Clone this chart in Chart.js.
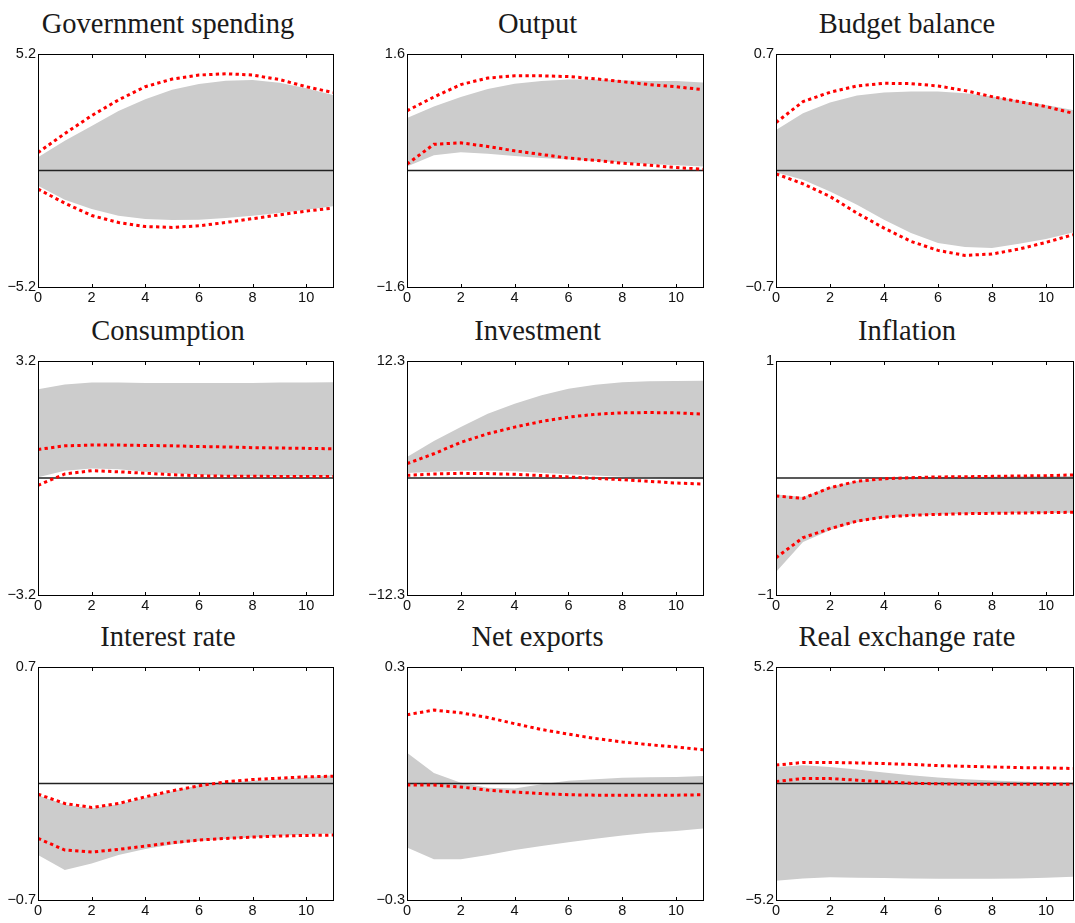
<!DOCTYPE html>
<html>
<head>
<meta charset="utf-8">
<script src="https://cdn.jsdelivr.net/npm/chart.js@4.4.0/dist/chart.umd.min.js"></script>
<style>
  body { margin: 0; background: #fff; width: 1075px; height: 923px; position: relative; overflow: hidden; }
  canvas { position: absolute; }
  .title {
    position: absolute;
    font-family: "Liberation Serif", "Times New Roman", serif;
    font-size: 28.5px;
    line-height: 28.5px;
    color: #1a1a1a;
    white-space: nowrap;
    transform: translateX(-50%);
  }
</style>
</head>
<body>
<script>
// horizons and tick positions
var horizons = [0, 1, 2, 3, 4, 5, 6, 7, 8, 9, 10, 11];
var xTicks = [0, 2, 4, 6, 8, 10];

var titles = ["Government spending", "Output", "Budget balance",
              "Consumption", "Investment", "Inflation",
              "Interest rate", "Net exports", "Real exchange rate"];
var yLimits = [5.2, 1.6, 0.7, 3.2, 12.3, 1, 0.7, 0.3, 5.2];

// Government spending
var govBandHi = [0.59, 1.33, 1.99, 2.66, 3.18, 3.60, 3.86, 4.01, 4.04, 3.92, 3.67, 3.37];
var govBandLo = [-0.68, -1.31, -1.72, -2.02, -2.17, -2.21, -2.20, -2.12, -2.02, -1.90, -1.75, -1.60];
var govRedHi = [0.80, 1.65, 2.45, 3.15, 3.74, 4.08, 4.26, 4.32, 4.26, 4.06, 3.74, 3.48];
var govRedLo = [-0.83, -1.46, -2.01, -2.32, -2.50, -2.54, -2.47, -2.32, -2.15, -1.98, -1.81, -1.68];

// Output
var outBandHi = [0.72, 0.88, 1.01, 1.12, 1.19, 1.23, 1.25, 1.25, 1.24, 1.23, 1.23, 1.21];
var outBandLo = [0.055, 0.21, 0.25, 0.23, 0.20, 0.17, 0.15, 0.13, 0.11, 0.09, 0.073, 0.055];
var outRedHi = [0.82, 1.01, 1.18, 1.27, 1.30, 1.30, 1.29, 1.26, 1.22, 1.18, 1.15, 1.11];
var outRedLo = [0.087, 0.36, 0.38, 0.33, 0.27, 0.22, 0.17, 0.14, 0.10, 0.073, 0.04, 0.018];

// Budget balance
var budBandHi = [0.244, 0.344, 0.408, 0.45, 0.468, 0.474, 0.474, 0.464, 0.444, 0.42, 0.394, 0.364];
var budBandLo = [-0.01, -0.056, -0.126, -0.206, -0.296, -0.376, -0.436, -0.46, -0.466, -0.44, -0.412, -0.372];
var budRedHi = [0.288, 0.414, 0.47, 0.508, 0.524, 0.522, 0.508, 0.48, 0.444, 0.414, 0.384, 0.344];
var budRedLo = [-0.02, -0.08, -0.156, -0.256, -0.346, -0.426, -0.48, -0.51, -0.502, -0.472, -0.432, -0.386];

// Consumption
var conBandHi = [2.43, 2.56, 2.61, 2.61, 2.60, 2.60, 2.60, 2.60, 2.60, 2.61, 2.61, 2.62];
var conBandLo = [0.02, 0.20, 0.26, 0.24, 0.17, 0.13, 0.09, 0.06, 0.05, 0.05, 0.05, 0.05];
var conRedHi = [0.78, 0.88, 0.90, 0.90, 0.89, 0.88, 0.86, 0.85, 0.83, 0.82, 0.81, 0.80];
var conRedLo = [-0.20, 0.11, 0.20, 0.17, 0.13, 0.09, 0.06, 0.05, 0.05, 0.04, 0.04, 0.04];

// Investment
var invBandHi = [2.21, 3.89, 5.36, 6.76, 7.81, 8.69, 9.39, 9.81, 10.06, 10.16, 10.2, 10.23];
var invBandLo = [0.53, 0.67, 0.77, 0.77, 0.70, 0.56, 0.39, 0.25, 0.14, 0.04, -0.07, -0.14];
var invRedHi = [1.51, 2.55, 3.75, 4.65, 5.35, 5.95, 6.40, 6.70, 6.85, 6.88, 6.85, 6.72];
var invRedLo = [0.28, 0.42, 0.49, 0.46, 0.39, 0.25, 0.11, -0.04, -0.18, -0.35, -0.53, -0.63];

// Inflation
var infBandHi = [-0.14, -0.162, -0.077, -0.026, -0.003, 0.006, 0.009, 0.011, 0.011, 0.014, 0.014, 0.017];
var infBandLo = [-0.803, -0.547, -0.447, -0.376, -0.339, -0.322, -0.311, -0.305, -0.302, -0.299, -0.299, -0.296];
var infRedHi = [-0.154, -0.174, -0.083, -0.028, -0.006, 0.003, 0.009, 0.011, 0.014, 0.017, 0.02, 0.026];
var infRedLo = [-0.681, -0.51, -0.433, -0.368, -0.333, -0.319, -0.311, -0.305, -0.302, -0.299, -0.296, -0.293];

// Interest rate
var intBandHi = [-0.07, -0.126, -0.15, -0.124, -0.086, -0.046, -0.01, 0.004, 0.016, 0.026, 0.036, 0.05];
var intBandLo = [-0.43, -0.52, -0.48, -0.43, -0.394, -0.366, -0.346, -0.334, -0.324, -0.314, -0.306, -0.30];
var intRedHi = [-0.064, -0.12, -0.144, -0.12, -0.08, -0.044, -0.014, 0.01, 0.024, 0.032, 0.04, 0.044];
var intRedLo = [-0.33, -0.40, -0.412, -0.396, -0.376, -0.356, -0.34, -0.33, -0.322, -0.316, -0.312, -0.31];

// Net exports
var netBandHi = [0.079, 0.027, 0.002, -0.011, -0.013, -0.002, 0.007, 0.011, 0.015, 0.016, 0.017, 0.019];
var netBandLo = [-0.165, -0.195, -0.195, -0.184, -0.171, -0.161, -0.151, -0.142, -0.134, -0.127, -0.122, -0.116];
var netRedHi = [0.177, 0.189, 0.182, 0.170, 0.154, 0.139, 0.127, 0.116, 0.107, 0.100, 0.094, 0.087];
var netRedLo = [-0.004, -0.004, -0.009, -0.017, -0.022, -0.026, -0.029, -0.03, -0.03, -0.03, -0.03, -0.029];

// Real exchange rate
var rerBandHi = [0.74, 0.82, 0.74, 0.62, 0.49, 0.37, 0.27, 0.19, 0.13, 0.09, 0.06, 0.045];
var rerBandLo = [-4.34, -4.24, -4.19, -4.21, -4.22, -4.24, -4.25, -4.25, -4.25, -4.24, -4.21, -4.16];
var rerRedHi = [0.82, 0.94, 0.94, 0.92, 0.89, 0.85, 0.80, 0.77, 0.74, 0.71, 0.70, 0.67];
var rerRedLo = [0.09, 0.22, 0.22, 0.15, 0.07, 0.015, -0.015, -0.03, -0.03, -0.03, -0.03, -0.03];

var panels = [
  [govBandHi, govBandLo, govRedHi, govRedLo],
  [outBandHi, outBandLo, outRedHi, outRedLo],
  [budBandHi, budBandLo, budRedHi, budRedLo],
  [conBandHi, conBandLo, conRedHi, conRedLo],
  [invBandHi, invBandLo, invRedHi, invRedLo],
  [infBandHi, infBandLo, infRedHi, infRedLo],
  [intBandHi, intBandLo, intRedHi, intRedLo],
  [netBandHi, netBandLo, netRedHi, netRedLo],
  [rerBandHi, rerBandLo, rerRedHi, rerRedLo]
];

// layout of the plot boxes (px)
var colLeft = [38, 407, 776];
var colWidth = [295, 296, 297];
var rowTop = [54, 361, 667];
var rowHeight = [233, 234, 233];
var yAxisW = 46, xAxisH = 24, padTop = 12, padRight = 8;

function pts(vals) {
  return horizons.map(function(h, i) { return { x: h, y: vals[i] }; });
}

function fmt(v) {
  var s = String(Math.abs(v));
  return v < 0 ? '\u2212' + s : s;
}

// box around plot + inward tick marks
var boxPlugin = {
  id: 'box',
  afterDatasetsDraw: function(chart) {
    var a = chart.chartArea, ctx = chart.ctx, xs = chart.scales.x;
    ctx.save();
    ctx.strokeStyle = '#000';
    ctx.lineWidth = 1;
    ctx.strokeRect(a.left + 0.5, a.top + 0.5, a.right - a.left, a.bottom - a.top);
    ctx.beginPath();
    xTicks.forEach(function(v) {
      var px = Math.round(xs.getPixelForValue(v)) + 0.5;
      ctx.moveTo(px, a.bottom); ctx.lineTo(px, a.bottom - 3);
      ctx.moveTo(px, a.top); ctx.lineTo(px, a.top + 4);
    });
    ctx.stroke();
    ctx.restore();
  }
};

panels.forEach(function(p, k) {
  var r = Math.floor(k / 3), c = k % 3;
  var L = colLeft[c], T = rowTop[r], W = colWidth[c], H = rowHeight[r];
  var lim = yLimits[k];

  var t = document.createElement('div');
  t.className = 'title';
  t.textContent = titles[k];
  t.style.left = (L + W / 2 - 17.5) + 'px';
  t.style.top = (T - 44.4) + 'px';
  document.body.appendChild(t);

  var cv = document.createElement('canvas');
  cv.width = W + yAxisW + padRight;
  cv.height = H + padTop + xAxisH;
  cv.style.left = (L - yAxisW) + 'px';
  cv.style.top = (T - padTop) + 'px';
  document.body.appendChild(cv);

  var tickFont = { family: '"Liberation Sans", Arial, sans-serif', size: 14.5 };

  new Chart(cv, {
    type: 'line',
    data: {
      datasets: [
        { data: pts(p[2]), borderColor: '#ff0000', borderWidth: 3, borderDash: [3.3, 3.3], pointRadius: 0, fill: false, order: 0 },
        { data: pts(p[3]), borderColor: '#ff0000', borderWidth: 3, borderDash: [3.3, 3.3], pointRadius: 0, fill: false, order: 0 },
        { data: pts(horizons.map(function() { return 0; })), borderColor: '#222', borderWidth: 1.3, pointRadius: 0, fill: false, order: 1 },
        { data: pts(p[1]), borderColor: 'rgba(0,0,0,0)', borderWidth: 0, pointRadius: 0, fill: false, order: 2 },
        { data: pts(p[0]), borderColor: 'rgba(0,0,0,0)', borderWidth: 0, pointRadius: 0, fill: 3, backgroundColor: '#cccccc', order: 3 }
      ]
    },
    options: {
      responsive: false,
      animation: false,
      layout: { padding: { top: padTop, right: padRight, left: 0, bottom: 0 } },
      plugins: { legend: { display: false }, tooltip: { enabled: false }, title: { display: false } },
      scales: {
        x: {
          type: 'linear', min: 0, max: 11,
          grid: { display: false, drawTicks: false },
          border: { display: false },
          afterBuildTicks: function(s) { s.ticks = xTicks.map(function(v) { return { value: v }; }); },
          afterFit: function(s) { s.height = xAxisH; },
          ticks: { padding: 2, maxRotation: 0, autoSkip: false, color: '#111', font: tickFont }
        },
        y: {
          min: -lim, max: lim,
          grid: { display: false, drawTicks: false },
          border: { display: false },
          afterBuildTicks: function(s) { s.ticks = [{ value: -lim }, { value: lim }]; },
          afterFit: function(s) { s.width = yAxisW; },
          ticks: { padding: 2, autoSkip: false, color: '#111', font: tickFont,
                   callback: function(v) { return fmt(v); } }
        }
      }
    },
    plugins: [boxPlugin]
  });
});
</script>
</body>
</html>
